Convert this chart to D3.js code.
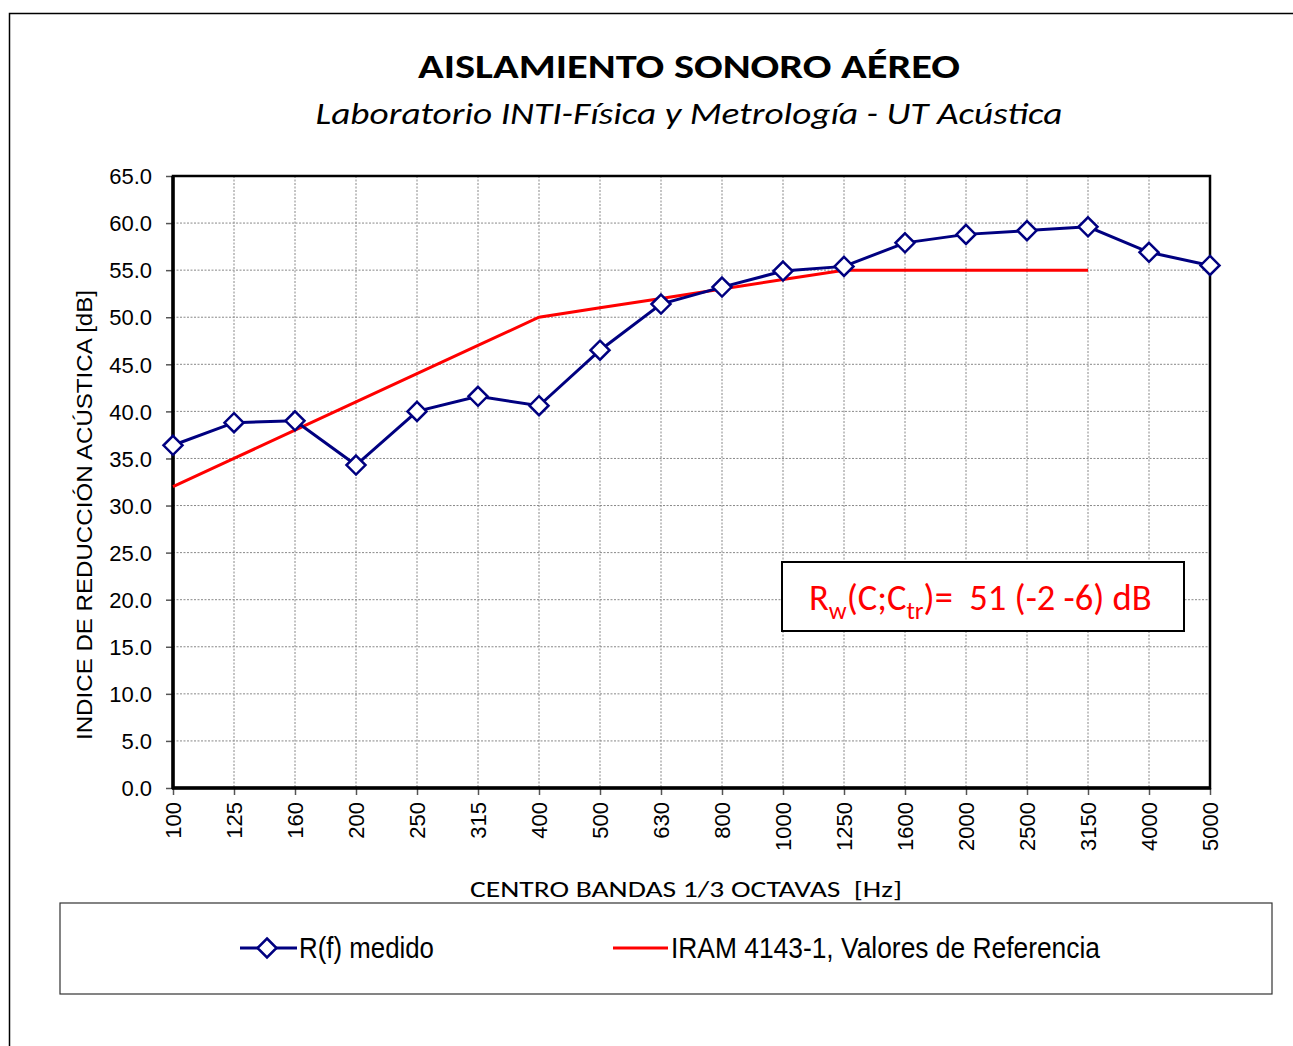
<!DOCTYPE html>
<html>
<head>
<meta charset="utf-8">
<script src="https://cdn.jsdelivr.net/npm/d3@7"></script>
<style>
  body { margin: 0; background: #fff; }
  svg { display: block; }
  text { white-space: pre; }
</style>
</head>
<body>
<svg id="chart" width="1293" height="1046"></svg>
<script>
const bands = ['100','125','160','200','250','315','400','500','630','800','1000','1250','1600','2000','2500','3150','4000','5000'];
const measured = [36.4, 38.8, 39.0, 34.3, 40.0, 41.6, 40.6, 46.5, 51.4, 53.2, 54.9, 55.4, 57.9, 58.8, 59.2, 59.6, 56.9, 55.5];
const refBands = ['100','125','160','200','250','315','400','500','630','800','1000','1250','1600','2000','2500','3150'];
const refValues = [32, 35, 38, 41, 44, 47, 50, 51, 52, 53, 54, 55, 55, 55, 55, 55];
const yTicks = [0, 5, 10, 15, 20, 25, 30, 35, 40, 45, 50, 55, 60, 65];

const svg = d3.select('#chart');
const calibri = "Carlito, Calibri, 'Open Sans', sans-serif";
const arial = "'Liberation Sans', Arial, sans-serif";
const narrow = "'Liberation Sans Narrow', 'Arial Narrow', 'Liberation Sans', sans-serif";

// outer frame (runs off the right and bottom edges)
svg.append('rect')
  .attr('x', 9.5).attr('y', 13.5).attr('width', 1300).attr('height', 1100)
  .attr('fill', 'none').attr('stroke', '#000').attr('stroke-width', 1.5);

const x = d3.scalePoint().domain(bands).range([173, 1210]);
const y = d3.scaleLinear().domain([0, 65]).range([788, 176]);

// grid
svg.append('g').selectAll('line').data(bands.slice(1, -1)).enter().append('line')
  .attr('x1', d => x(d)).attr('x2', d => x(d)).attr('y1', 176).attr('y2', 788)
  .attr('stroke', '#888').attr('stroke-width', 1).attr('stroke-dasharray', '2,1.5');
svg.append('g').selectAll('line').data(yTicks.slice(1, -1)).enter().append('line')
  .attr('x1', 173).attr('x2', 1210).attr('y1', d => y(d)).attr('y2', d => y(d))
  .attr('stroke', '#888').attr('stroke-width', 1).attr('stroke-dasharray', '2,1.5');

// axes
const yAxis = svg.append('g').attr('transform', 'translate(173,0)')
  .call(d3.axisLeft(y).tickValues(yTicks).tickSize(7).tickFormat(d3.format('.1f')));
yAxis.select('.domain').remove();
yAxis.selectAll('line').attr('stroke', '#555').attr('stroke-width', 1.5);
yAxis.selectAll('text').attr('x', -21).attr('dy', '0.35em')
  .style('font-family', arial).style('font-size', '22px').attr('fill', '#000');

const xAxis = svg.append('g').attr('transform', 'translate(0,788)')
  .call(d3.axisBottom(x).tickSize(7));
xAxis.select('.domain').remove();
xAxis.selectAll('line').attr('stroke', '#555').attr('stroke-width', 1.5);
xAxis.selectAll('text')
  .attr('transform', 'rotate(-90)')
  .attr('x', -14).attr('y', 0).attr('dy', '0.36em')
  .attr('text-anchor', 'end')
  .style('font-family', arial).style('font-size', '22px').attr('fill', '#000');

// plot border
svg.append('rect').attr('x', 173).attr('y', 176).attr('width', 1037).attr('height', 612)
  .attr('fill', 'none').attr('stroke', '#000').attr('stroke-width', 2.5);
svg.append('line').attr('x1', 173).attr('x2', 173).attr('y1', 176).attr('y2', 789)
  .attr('stroke', '#000').attr('stroke-width', 3.5);
svg.append('line').attr('x1', 172).attr('x2', 1211).attr('y1', 788).attr('y2', 788)
  .attr('stroke', '#000').attr('stroke-width', 3.5);

// reference curve
const line = d3.line().x(d => x(d.b)).y(d => y(d.v));
svg.append('path')
  .datum(refBands.map((b, i) => ({ b: b, v: refValues[i] })))
  .attr('d', line).attr('fill', 'none').attr('stroke', '#ff0000').attr('stroke-width', 3);

// measured curve
const meas = bands.map((b, i) => ({ b: b, v: measured[i] }));
svg.append('path').datum(meas)
  .attr('d', line).attr('fill', 'none').attr('stroke', '#000080').attr('stroke-width', 3);
const diamond = d3.symbol().type(d3.symbolDiamond2).size(230);
svg.append('g').selectAll('path').data(meas).enter().append('path')
  .attr('transform', d => 'translate(' + x(d.b) + ',' + y(d.v) + ')')
  .attr('d', diamond)
  .attr('fill', '#fff').attr('stroke', '#000080').attr('stroke-width', 2.5);

// titles
svg.append('text').attr('x', 689).attr('y', 78).attr('text-anchor', 'middle')
  .style('font-family', calibri).style('font-weight', 'bold').style('font-size', '35px')
  .attr('textLength', 542).attr('lengthAdjust', 'spacingAndGlyphs')
  .text('AISLAMIENTO SONORO AÉREO');
svg.append('text').attr('x', 689).attr('y', 124).attr('text-anchor', 'middle')
  .style('font-family', calibri).style('font-style', 'italic').style('font-size', '31px')
  .attr('textLength', 747).attr('lengthAdjust', 'spacingAndGlyphs')
  .text('Laboratorio INTI-Física y Metrología - UT Acústica');

svg.append('text').attr('x', 686).attr('y', 897).attr('text-anchor', 'middle')
  .style('font-family', calibri).style('font-size', '23px')
  .attr('textLength', 432).attr('lengthAdjust', 'spacingAndGlyphs')
  .text('CENTRO BANDAS 1/3 OCTAVAS  [Hz]');
svg.append('text').attr('transform', 'translate(92,515) rotate(-90)').attr('text-anchor', 'middle')
  .style('font-family', arial).style('font-size', '22px')
  .attr('textLength', 450).attr('lengthAdjust', 'spacingAndGlyphs')
  .text('INDICE DE REDUCCIÓN ACÚSTICA [dB]');

// Rw annotation
svg.append('rect').attr('x', 782).attr('y', 562).attr('width', 402).attr('height', 69)
  .attr('fill', '#fff').attr('stroke', '#000').attr('stroke-width', 2);
const rw = svg.append('text').attr('x', 809).attr('y', 610)
  .style('font-family', calibri).style('font-size', '36.5px').attr('fill', '#ff0000');
rw.append('tspan').text('R');
rw.append('tspan').attr('dy', 9).style('font-size', '25px').text('w');
rw.append('tspan').attr('dy', -9).text('(C;C');
rw.append('tspan').attr('dy', 9).style('font-size', '25px').text('tr');
rw.append('tspan').attr('dy', -9).text(')=  51 (-2 -6) dB');

// legend
svg.append('rect').attr('x', 60).attr('y', 903).attr('width', 1212).attr('height', 91)
  .attr('fill', '#fff').attr('stroke', '#333').attr('stroke-width', 1.2);
svg.append('line').attr('x1', 240).attr('x2', 297).attr('y1', 948).attr('y2', 948)
  .attr('stroke', '#000080').attr('stroke-width', 3);
svg.append('path').attr('transform', 'translate(267,948)').attr('d', diamond)
  .attr('fill', '#fff').attr('stroke', '#000080').attr('stroke-width', 2.5);
svg.append('text').attr('x', 299).attr('y', 958)
  .style('font-family', narrow).style('font-size', '29px')
  .attr('textLength', 135).attr('lengthAdjust', 'spacingAndGlyphs')
  .text('R(f) medido');
svg.append('line').attr('x1', 613).attr('x2', 668).attr('y1', 948).attr('y2', 948)
  .attr('stroke', '#ff0000').attr('stroke-width', 3);
svg.append('text').attr('x', 671).attr('y', 958)
  .style('font-family', narrow).style('font-size', '29px')
  .attr('textLength', 429).attr('lengthAdjust', 'spacingAndGlyphs')
  .text('IRAM 4143-1, Valores de Referencia');
</script>
</body>
</html>
